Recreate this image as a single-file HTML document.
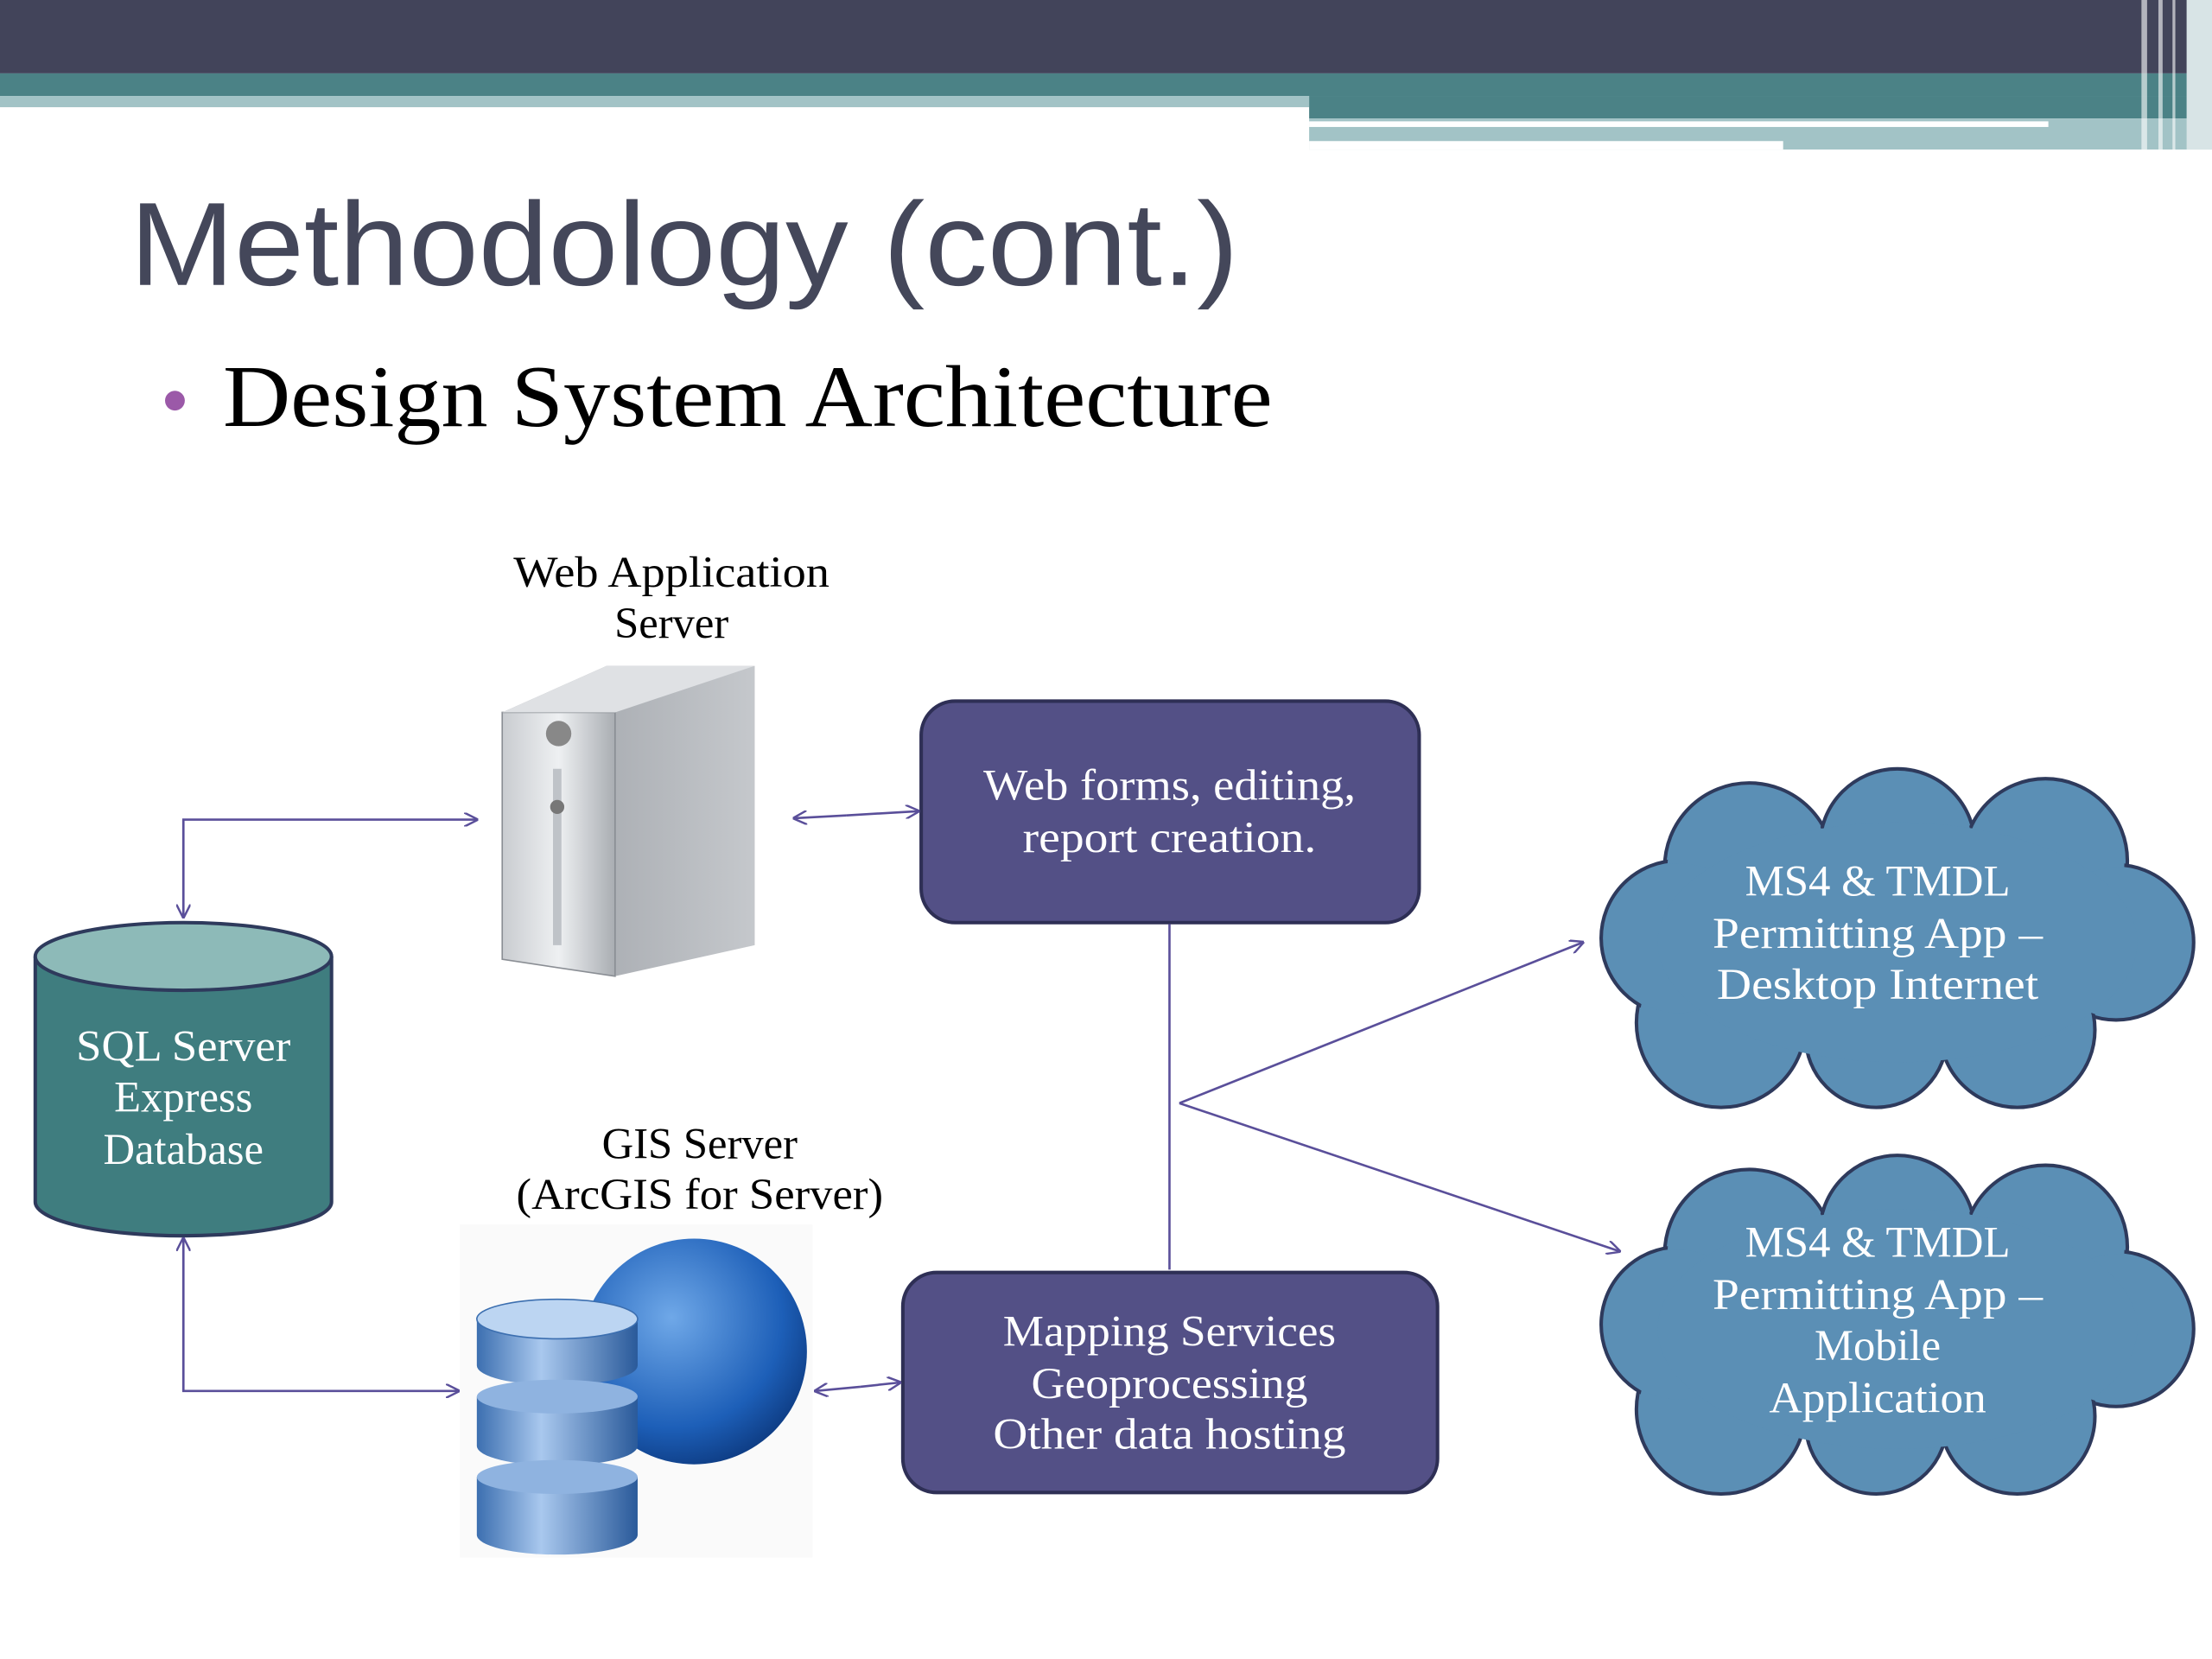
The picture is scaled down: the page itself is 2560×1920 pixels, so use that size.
<!DOCTYPE html>
<html><head><meta charset="utf-8"><style>
html,body{margin:0;padding:0;background:#fff;}
svg{display:block;}
</style></head><body>
<svg width="2560" height="1920" viewBox="0 0 1568 1176" xmlns="http://www.w3.org/2000/svg">
<defs>
<linearGradient id="srv" x1="0" x2="1"><stop offset="0" stop-color="#c9ccd0"/><stop offset="0.5" stop-color="#eef0f2"/><stop offset="1" stop-color="#a9adb2"/></linearGradient>
<linearGradient id="srvs" x1="0" x2="1"><stop offset="0" stop-color="#9a9ea4"/><stop offset="1" stop-color="#c5c8cc"/></linearGradient>
<radialGradient id="glb" cx="0.4" cy="0.35" r="0.7"><stop offset="0" stop-color="#6fa8e8"/><stop offset="0.7" stop-color="#1d5fb8"/><stop offset="1" stop-color="#0d3a80"/></radialGradient>
<linearGradient id="db" x1="0" x2="1"><stop offset="0" stop-color="#3c6fb0"/><stop offset="0.4" stop-color="#a9c8ee"/><stop offset="1" stop-color="#2a5a9a"/></linearGradient>
<marker id="ar" markerWidth="10" markerHeight="10" refX="9" refY="5" orient="auto" markerUnits="userSpaceOnUse"><path d="M0,0 L10,5 L0,10" fill="none" stroke="#5a4f9a" stroke-width="1.5"/></marker>
</defs>
<rect x="0" y="0" width="1568" height="52" fill="#42445a"/>
<rect x="0" y="52" width="1568" height="16" fill="#4b8286"/>
<rect x="0" y="68" width="928" height="8" fill="#a2c3c6"/>
<rect x="928" y="68" width="640" height="16" fill="#4b8286"/>
<rect x="928" y="84" width="640" height="22" fill="#a2c3c6"/>
<rect x="928" y="86" width="524" height="4" fill="#fff"/>
<rect x="928" y="100" width="336" height="6" fill="#fff"/>
<rect x="1518" y="0" width="4" height="106" fill="#fff" opacity="0.6"/>
<rect x="1530" y="0" width="3" height="106" fill="#fff" opacity="0.6"/>
<rect x="1540" y="0" width="2" height="106" fill="#fff" opacity="0.6"/>
<rect x="1550" y="0" width="18" height="106" fill="#d8e4e6"/>
<text x="92" y="202" font-family="Liberation Sans, sans-serif" font-size="84" fill="#44475a" textLength="786" lengthAdjust="spacingAndGlyphs">Methodology (cont.)</text>
<circle cx="124" cy="284" r="7" fill="#9b59a8"/>
<text x="158" y="302" font-family="Liberation Serif, serif" font-size="62" fill="#000" textLength="744" lengthAdjust="spacingAndGlyphs">Design System Architecture</text>
<g font-family="Liberation Serif, serif" font-size="31" text-anchor="middle">
<text x="476" y="416" textLength="224" lengthAdjust="spacingAndGlyphs">Web Application</text>
<text x="476" y="452">Server</text>
<text x="496" y="821">GIS Server</text>
<text x="496" y="857" textLength="260" lengthAdjust="spacingAndGlyphs">(ArcGIS for Server)</text>
</g>
<polygon points="356,505 430,472 535,472 535,670 436,692 356,680" fill="url(#srvs)"/>
<polygon points="356,505 436,505 436,692 356,680" fill="url(#srv)" stroke="#8a8e94"/>
<polygon points="356,505 430,472 535,472 436,505" fill="#dfe1e4"/>
<line x1="395" y1="545" x2="395" y2="670" stroke="#bfc3c8" stroke-width="6"/>
<circle cx="395" cy="572" r="5" fill="#777"/>
<circle cx="396" cy="520" r="9" fill="#888"/>
<path d="M25,678 L25,852 A105,24 0 0 0 235,852 L235,678" fill="#3f7d7f" stroke="#2e3a5c" stroke-width="2.5"/>
<ellipse cx="130" cy="678" rx="105" ry="24" fill="#8dbab8" stroke="#2e3a5c" stroke-width="2.5"/>
<g font-family="Liberation Serif, serif" font-size="31" fill="#fff" text-anchor="middle">
<text x="130" y="752" textLength="152" lengthAdjust="spacingAndGlyphs">SQL Server</text><text x="130" y="788">Express</text><text x="130" y="825">Database</text>
</g>
<rect x="326" y="868" width="250" height="236" fill="#fafafa"/>
<circle cx="492" cy="958" r="80" fill="url(#glb)"/>
<path d="M338,935 L338,968 A57,14 0 0 0 452,968 L452,935" fill="url(#db)"/>
<ellipse cx="395" cy="935" rx="57" ry="14" fill="#bcd5f2" stroke="#3c6fb0"/>
<path d="M338,990 L338,1025 A57,14 0 0 0 452,1025 L452,990" fill="url(#db)"/>
<ellipse cx="395" cy="990" rx="57" ry="12" fill="#8fb3e0"/>
<path d="M338,1047 L338,1088 A57,14 0 0 0 452,1088 L452,1047" fill="url(#db)"/>
<ellipse cx="395" cy="1047" rx="57" ry="12" fill="#8fb3e0"/>
<rect x="653" y="497" width="353" height="157" rx="24" fill="#535086" stroke="#2e2f55" stroke-width="2.5"/>
<rect x="640" y="902" width="379" height="156" rx="24" fill="#535086" stroke="#2e2f55" stroke-width="2.5"/>
<g font-family="Liberation Serif, serif" font-size="31" fill="#fff" text-anchor="middle">
<text x="829" y="567" textLength="264" lengthAdjust="spacingAndGlyphs">Web forms, editing,</text><text x="829" y="604" textLength="208" lengthAdjust="spacingAndGlyphs">report creation.</text>
<text x="829" y="954" textLength="236" lengthAdjust="spacingAndGlyphs">Mapping Services</text><text x="829" y="991" textLength="196" lengthAdjust="spacingAndGlyphs">Geoprocessing</text><text x="829" y="1027" textLength="250" lengthAdjust="spacingAndGlyphs">Other data hosting</text>
</g>
<g fill="none" stroke="#5a4f9a" stroke-width="1.6">
<path d="M130,650 L130,581 L338,581" marker-end="url(#ar)"/>
<path d="M130,581 L130,650" marker-end="url(#ar)"/>
<path d="M130,880 L130,986 L325,986" marker-end="url(#ar)"/>
<path d="M130,986 L130,878" marker-end="url(#ar)"/>
<path d="M600,578 L563,580" marker-end="url(#ar)"/>
<path d="M600,578 L651,575" marker-end="url(#ar)"/>
<path d="M610,983 L578,986" marker-end="url(#ar)"/>
<path d="M610,983 L638,980" marker-end="url(#ar)"/>
<path d="M829,655 L829,900"/>
<path d="M836,782 L1122,668" marker-end="url(#ar)"/>
<path d="M836,782 L1148,887" marker-end="url(#ar)"/>
</g>
<g id="c1">
<g fill="#5b8fb5" stroke="#2e3a5c" stroke-width="2.5">
<circle cx="1240" cy="615" r="60"/><circle cx="1345" cy="600" r="55"/><circle cx="1450" cy="610" r="58"/>
<circle cx="1500" cy="668" r="55"/><circle cx="1430" cy="730" r="55"/><circle cx="1330" cy="735" r="50"/>
<circle cx="1220" cy="725" r="60"/><circle cx="1190" cy="665" r="55"/>
</g>
<g fill="#5b8fb5">
<circle cx="1240" cy="615" r="58"/><circle cx="1345" cy="600" r="53"/><circle cx="1450" cy="610" r="56"/>
<circle cx="1500" cy="668" r="53"/><circle cx="1430" cy="730" r="53"/><circle cx="1330" cy="735" r="48"/>
<circle cx="1220" cy="725" r="58"/><circle cx="1190" cy="665" r="53"/><ellipse cx="1345" cy="668" rx="170" ry="85"/>
</g>
</g>
<use href="#c1" transform="translate(0,274)"/>
<g font-family="Liberation Serif, serif" font-size="31" fill="#fff" text-anchor="middle">
<text x="1331" y="635" textLength="188" lengthAdjust="spacingAndGlyphs">MS4 &amp; TMDL</text><text x="1331" y="672" textLength="234" lengthAdjust="spacingAndGlyphs">Permitting App –</text><text x="1331" y="708" textLength="228" lengthAdjust="spacingAndGlyphs">Desktop Internet</text>
<text x="1331" y="891" textLength="188" lengthAdjust="spacingAndGlyphs">MS4 &amp; TMDL</text><text x="1331" y="928" textLength="234" lengthAdjust="spacingAndGlyphs">Permitting App –</text><text x="1331" y="964">Mobile</text><text x="1331" y="1001" textLength="154" lengthAdjust="spacingAndGlyphs">Application</text>
</g>
</svg>
</body></html>
